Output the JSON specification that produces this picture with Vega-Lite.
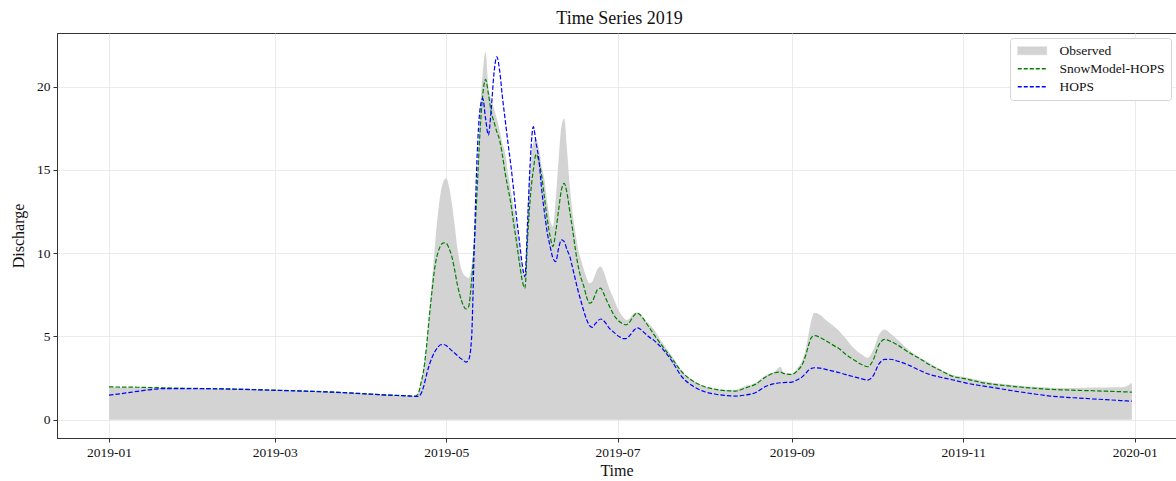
{
  "$schema": "https://vega.github.io/schema/vega-lite/v6.json",
  "width": 1119,
  "height": 405,
  "autosize": {"type": "none"},
  "padding": {"left": 57, "top": 33, "right": 0, "bottom": 43},
  "title": {"text": "Time Series 2019", "fontSize": 18, "font": "Liberation Serif", "fontWeight": "normal", "color": "#111", "offset": 5, "dx": 3},
  "data": {"values": [
    {"date":"2019-01-01","obs":1.95,"smh":1.97,"hops":1.48},
    {"date":"2019-01-06","obs":1.94,"smh":1.96,"hops":1.58},
    {"date":"2019-01-11","obs":1.93,"smh":1.95,"hops":1.70},
    {"date":"2019-01-16","obs":1.92,"smh":1.93,"hops":1.81},
    {"date":"2019-01-21","obs":1.91,"smh":1.91,"hops":1.87},
    {"date":"2019-01-31","obs":1.88,"smh":1.88,"hops":1.87},
    {"date":"2019-02-15","obs":1.84,"smh":1.84,"hops":1.83},
    {"date":"2019-02-28","obs":1.78,"smh":1.78,"hops":1.77},
    {"date":"2019-03-12","obs":1.73,"smh":1.72,"hops":1.71},
    {"date":"2019-03-22","obs":1.66,"smh":1.66,"hops":1.65},
    {"date":"2019-04-01","obs":1.57,"smh":1.57,"hops":1.56},
    {"date":"2019-04-11","obs":1.49,"smh":1.48,"hops":1.47},
    {"date":"2019-04-17","obs":1.44,"smh":1.44,"hops":1.43},
    {"date":"2019-04-20","obs":1.42,"smh":1.42,"hops":1.40},
    {"date":"2019-04-21","obs":1.6,"smh":1.55,"hops":1.40},
    {"date":"2019-04-22","obs":2.2,"smh":2.2,"hops":1.55},
    {"date":"2019-04-23","obs":3.2,"smh":3.0,"hops":2.0},
    {"date":"2019-04-24","obs":4.6,"smh":4.4,"hops":2.7},
    {"date":"2019-04-25","obs":6.5,"smh":6.2,"hops":3.3},
    {"date":"2019-04-26","obs":8.5,"smh":7.8,"hops":3.75},
    {"date":"2019-04-27","obs":10.5,"smh":9.2,"hops":4.1},
    {"date":"2019-04-28","obs":12.3,"smh":10.0,"hops":4.35},
    {"date":"2019-04-29","obs":13.6,"smh":10.45,"hops":4.5},
    {"date":"2019-04-30","obs":14.3,"smh":10.62,"hops":4.52},
    {"date":"2019-05-01","obs":14.5,"smh":10.6,"hops":4.45},
    {"date":"2019-05-02","obs":14.0,"smh":10.3,"hops":4.3},
    {"date":"2019-05-03","obs":13.0,"smh":9.8,"hops":4.15},
    {"date":"2019-05-04","obs":11.7,"smh":9.0,"hops":4.0},
    {"date":"2019-05-05","obs":10.3,"smh":8.1,"hops":3.85},
    {"date":"2019-05-06","obs":9.3,"smh":7.4,"hops":3.7},
    {"date":"2019-05-07","obs":8.8,"smh":6.9,"hops":3.58},
    {"date":"2019-05-08","obs":8.6,"smh":6.65,"hops":3.46},
    {"date":"2019-05-09","obs":8.5,"smh":6.8,"hops":3.6},
    {"date":"2019-05-10","obs":9.2,"smh":8.3,"hops":4.8},
    {"date":"2019-05-11","obs":11.0,"smh":10.5,"hops":10.5},
    {"date":"2019-05-12","obs":14.5,"smh":13.8,"hops":15.8},
    {"date":"2019-05-13","obs":18.4,"smh":17.2,"hops":18.6},
    {"date":"2019-05-14","obs":20.8,"smh":19.5,"hops":19.3},
    {"date":"2019-05-15","obs":22.1,"smh":20.45,"hops":18.1},
    {"date":"2019-05-16","obs":20.0,"smh":19.6,"hops":17.1},
    {"date":"2019-05-17","obs":19.3,"smh":18.5,"hops":18.6},
    {"date":"2019-05-18","obs":18.7,"smh":17.9,"hops":20.8},
    {"date":"2019-05-19","obs":18.1,"smh":17.3,"hops":21.8},
    {"date":"2019-05-20","obs":17.4,"smh":16.8,"hops":21.0},
    {"date":"2019-05-21","obs":16.6,"smh":15.9,"hops":19.4},
    {"date":"2019-05-22","obs":16.0,"smh":14.8,"hops":18.0},
    {"date":"2019-05-23","obs":14.8,"smh":13.9,"hops":16.6},
    {"date":"2019-05-24","obs":13.8,"smh":13.0,"hops":15.3},
    {"date":"2019-05-25","obs":12.8,"smh":11.8,"hops":13.8},
    {"date":"2019-05-26","obs":11.8,"smh":10.7,"hops":12.2},
    {"date":"2019-05-27","obs":10.5,"smh":9.5,"hops":10.8},
    {"date":"2019-05-28","obs":9.2,"smh":8.4,"hops":9.4},
    {"date":"2019-05-29","obs":8.6,"smh":7.9,"hops":8.6},
    {"date":"2019-05-30","obs":13.0,"smh":11.0,"hops":12.0},
    {"date":"2019-05-31","obs":15.5,"smh":13.5,"hops":15.8},
    {"date":"2019-06-01","obs":16.6,"smh":15.0,"hops":17.6},
    {"date":"2019-06-02","obs":16.9,"smh":15.95,"hops":16.6},
    {"date":"2019-06-03","obs":16.3,"smh":15.5,"hops":15.6},
    {"date":"2019-06-04","obs":15.2,"smh":14.6,"hops":13.8},
    {"date":"2019-06-05","obs":14.4,"smh":13.3,"hops":12.4},
    {"date":"2019-06-06","obs":13.0,"smh":12.0,"hops":11.2},
    {"date":"2019-06-07","obs":12.0,"smh":11.0,"hops":10.4},
    {"date":"2019-06-08","obs":11.6,"smh":10.4,"hops":9.7},
    {"date":"2019-06-09","obs":13.3,"smh":11.3,"hops":9.5},
    {"date":"2019-06-10","obs":15.6,"smh":12.6,"hops":10.3},
    {"date":"2019-06-11","obs":17.6,"smh":13.8,"hops":10.8},
    {"date":"2019-06-12","obs":18.1,"smh":14.2,"hops":10.7},
    {"date":"2019-06-13","obs":16.2,"smh":13.6,"hops":10.2},
    {"date":"2019-06-14","obs":14.0,"smh":12.5,"hops":9.8},
    {"date":"2019-06-15","obs":12.4,"smh":11.4,"hops":9.1},
    {"date":"2019-06-16","obs":11.2,"smh":10.2,"hops":8.4},
    {"date":"2019-06-17","obs":10.2,"smh":9.2,"hops":7.7},
    {"date":"2019-06-18","obs":9.6,"smh":8.5,"hops":7.1},
    {"date":"2019-06-19","obs":9.0,"smh":8.0,"hops":6.5},
    {"date":"2019-06-20","obs":8.5,"smh":7.35,"hops":6.0},
    {"date":"2019-06-21","obs":8.2,"smh":7.0,"hops":5.65},
    {"date":"2019-06-22","obs":8.3,"smh":7.1,"hops":5.55},
    {"date":"2019-06-23","obs":8.7,"smh":7.5,"hops":5.75},
    {"date":"2019-06-24","obs":9.1,"smh":7.85,"hops":5.95},
    {"date":"2019-06-25","obs":9.2,"smh":7.9,"hops":6.05},
    {"date":"2019-06-26","obs":8.9,"smh":7.6,"hops":5.95},
    {"date":"2019-06-27","obs":8.4,"smh":7.2,"hops":5.75},
    {"date":"2019-06-28","obs":7.9,"smh":6.85,"hops":5.5},
    {"date":"2019-06-29","obs":7.5,"smh":6.5,"hops":5.35},
    {"date":"2019-06-30","obs":7.1,"smh":6.2,"hops":5.2},
    {"date":"2019-07-01","obs":6.7,"smh":6.0,"hops":5.05},
    {"date":"2019-07-02","obs":6.4,"smh":5.85,"hops":4.95},
    {"date":"2019-07-03","obs":6.15,"smh":5.75,"hops":4.87},
    {"date":"2019-07-04","obs":6.0,"smh":5.7,"hops":4.87},
    {"date":"2019-07-05","obs":6.05,"smh":5.8,"hops":5.0},
    {"date":"2019-07-06","obs":6.25,"smh":6.05,"hops":5.2},
    {"date":"2019-07-07","obs":6.4,"smh":6.3,"hops":5.4},
    {"date":"2019-07-08","obs":6.45,"smh":6.4,"hops":5.52},
    {"date":"2019-07-09","obs":6.35,"smh":6.3,"hops":5.45},
    {"date":"2019-07-10","obs":6.15,"smh":6.1,"hops":5.3},
    {"date":"2019-07-11","obs":5.95,"smh":5.85,"hops":5.15},
    {"date":"2019-07-12","obs":5.8,"smh":5.6,"hops":5.0},
    {"date":"2019-07-14","obs":5.4,"smh":5.1,"hops":4.75},
    {"date":"2019-07-17","obs":4.6,"smh":4.4,"hops":4.25},
    {"date":"2019-07-20","obs":3.9,"smh":3.75,"hops":3.6},
    {"date":"2019-07-24","obs":2.9,"smh":2.85,"hops":2.55},
    {"date":"2019-07-28","obs":2.35,"smh":2.3,"hops":2.0},
    {"date":"2019-08-01","obs":2.0,"smh":1.98,"hops":1.68},
    {"date":"2019-08-05","obs":1.85,"smh":1.82,"hops":1.53},
    {"date":"2019-08-09","obs":1.78,"smh":1.74,"hops":1.45},
    {"date":"2019-08-12","obs":1.8,"smh":1.72,"hops":1.42},
    {"date":"2019-08-15","obs":2.0,"smh":1.88,"hops":1.47},
    {"date":"2019-08-19","obs":2.2,"smh":2.12,"hops":1.62},
    {"date":"2019-08-23","obs":2.7,"smh":2.6,"hops":2.02},
    {"date":"2019-08-26","obs":2.9,"smh":2.82,"hops":2.17},
    {"date":"2019-08-28","obs":3.18,"smh":2.86,"hops":2.22},
    {"date":"2019-08-29","obs":2.85,"smh":2.78,"hops":2.23},
    {"date":"2019-09-01","obs":2.75,"smh":2.72,"hops":2.26},
    {"date":"2019-09-03","obs":3.1,"smh":2.95,"hops":2.4},
    {"date":"2019-09-05","obs":3.7,"smh":3.42,"hops":2.62},
    {"date":"2019-09-06","obs":4.3,"smh":3.9,"hops":2.8},
    {"date":"2019-09-07","obs":5.2,"smh":4.5,"hops":2.98},
    {"date":"2019-09-08","obs":6.0,"smh":4.95,"hops":3.08},
    {"date":"2019-09-09","obs":6.42,"smh":5.05,"hops":3.12},
    {"date":"2019-09-11","obs":6.3,"smh":4.95,"hops":3.1},
    {"date":"2019-09-13","obs":6.0,"smh":4.75,"hops":3.02},
    {"date":"2019-09-16","obs":5.6,"smh":4.45,"hops":2.9},
    {"date":"2019-09-18","obs":5.3,"smh":4.25,"hops":2.82},
    {"date":"2019-09-20","obs":4.9,"smh":3.95,"hops":2.72},
    {"date":"2019-09-23","obs":4.3,"smh":3.6,"hops":2.58},
    {"date":"2019-09-26","obs":3.9,"smh":3.3,"hops":2.45},
    {"date":"2019-09-28","obs":3.72,"smh":3.18,"hops":2.38},
    {"date":"2019-09-30","obs":4.2,"smh":3.6,"hops":2.65},
    {"date":"2019-10-02","obs":5.1,"smh":4.5,"hops":3.35},
    {"date":"2019-10-04","obs":5.42,"smh":4.82,"hops":3.62},
    {"date":"2019-10-06","obs":5.2,"smh":4.72,"hops":3.63},
    {"date":"2019-10-09","obs":4.75,"smh":4.45,"hops":3.5},
    {"date":"2019-10-13","obs":4.12,"smh":4.0,"hops":3.25},
    {"date":"2019-10-16","obs":3.8,"smh":3.72,"hops":3.0},
    {"date":"2019-10-20","obs":3.4,"smh":3.3,"hops":2.72},
    {"date":"2019-10-24","obs":3.0,"smh":2.95,"hops":2.55},
    {"date":"2019-10-28","obs":2.7,"smh":2.62,"hops":2.4},
    {"date":"2019-11-02","obs":2.55,"smh":2.45,"hops":2.2},
    {"date":"2019-11-07","obs":2.35,"smh":2.25,"hops":2.05},
    {"date":"2019-11-12","obs":2.2,"smh":2.12,"hops":1.92},
    {"date":"2019-11-17","obs":2.12,"smh":2.03,"hops":1.78},
    {"date":"2019-11-22","obs":2.02,"smh":1.95,"hops":1.65},
    {"date":"2019-11-27","obs":1.96,"smh":1.88,"hops":1.53},
    {"date":"2019-12-02","obs":1.92,"smh":1.82,"hops":1.42},
    {"date":"2019-12-07","obs":1.9,"smh":1.79,"hops":1.35},
    {"date":"2019-12-12","obs":1.9,"smh":1.76,"hops":1.3},
    {"date":"2019-12-17","obs":1.93,"smh":1.74,"hops":1.25},
    {"date":"2019-12-22","obs":1.94,"smh":1.71,"hops":1.2},
    {"date":"2019-12-27","obs":1.95,"smh":1.68,"hops":1.15},
    {"date":"2019-12-29","obs":2.0,"smh":1.67,"hops":1.13},
    {"date":"2019-12-30","obs":2.1,"smh":1.66,"hops":1.12},
    {"date":"2019-12-31","obs":2.2,"smh":1.66,"hops":1.12}
  ]},
  "encoding": {
    "x": {
      "field": "date",
      "type": "temporal",
      "scale": {
        "type": "utc",
        "domain": [
          {"year": 2018, "month": 12, "date": 13, "hours": 12, "utc": true},
          {"year": 2020, "month": 1, "date": 15, "hours": 17, "utc": true}
        ]
      },
      "axis": {
        "title": "Time",
        "labelExpr": "utcFormat(datum.value, '%Y-%m')",
        "grid": true,
        "values": [
          {"year": 2019, "month": 1, "date": 1, "utc": true},
          {"year": 2019, "month": 3, "date": 1, "utc": true},
          {"year": 2019, "month": 5, "date": 1, "utc": true},
          {"year": 2019, "month": 7, "date": 1, "utc": true},
          {"year": 2019, "month": 9, "date": 1, "utc": true},
          {"year": 2019, "month": 11, "date": 1, "utc": true},
          {"year": 2020, "month": 1, "date": 1, "utc": true}
        ]
      }
    }
  },
  "layer": [
    {
      "mark": {"type": "area", "interpolate": "monotone", "opacity": 1},
      "encoding": {
        "y": {
          "field": "obs",
          "type": "quantitative",
          "scale": {"domain": [-1.1, 23.23], "nice": false, "zero": false},
          "axis": {"title": "Discharge", "values": [0, 5, 10, 15, 20], "grid": true}
        },
        "y2": {"datum": 0},
        "color": {
          "datum": "obs",
          "type": "nominal",
          "scale": {"domain": ["obs", "smh", "hops"], "range": ["#d3d3d3", "#008000", "#0000ff"]},
          "legend": {
            "title": null,
            "orient": "top-right",
            "offset": 5,
            "padding": 6,
            "cornerRadius": 3,
            "strokeColor": "#d5d5d5",
            "fillColor": "#ffffff",
            "labelFont": "Liberation Serif",
            "labelFontSize": 13.5,
            "labelColor": "#111",
            "symbolSize": 100,
            "symbolType": "M-1,0H4.8",
            "labelOffset": 30,
            "rowPadding": 3,
            "labelExpr": "datum.value === 'obs' ? 'Observed' : datum.value === 'smh' ? 'SnowModel-HOPS' : 'HOPS'",
            "encode": {
              "symbols": {
                "update": {
                  "shape": {"signal": "datum.value === 'obs' ? 'M-1,-0.8H4.8V0.8H-1Z' : 'M-1,0H4.8'"},
                  "fill": {"signal": "datum.value === 'obs' ? '#d3d3d3' : 'transparent'"},
                  "stroke": {"signal": "datum.value === 'obs' ? '#d3d3d3' : (datum.value === 'smh' ? '#008000' : '#0000ff')"},
                  "strokeWidth": {"signal": "datum.value === 'obs' ? 0.5 : 1.3"},
                  "strokeDash": {"signal": "datum.value === 'obs' ? [1, 0] : [4, 2]"},
                  "opacity": {"value": 1}
                }
              }
            }
          }
        }
      }
    },
    {
      "transform": [{"fold": ["smh", "hops"], "as": ["series", "value"]}],
      "mark": {"type": "line", "interpolate": "monotone", "strokeDash": [4.5, 2], "strokeWidth": 1.2},
      "encoding": {
        "y": {"field": "value", "type": "quantitative"},
        "color": {
          "field": "series",
          "type": "nominal",
          "legend": {
            "title": null,
            "orient": "top-right",
            "offset": 5,
            "padding": 6,
            "cornerRadius": 3,
            "strokeColor": "#d5d5d5",
            "fillColor": "#ffffff",
            "labelFont": "Liberation Serif",
            "labelFontSize": 13.5,
            "labelColor": "#111",
            "symbolSize": 100,
            "symbolType": "M-1,0H4.8",
            "labelOffset": 30,
            "rowPadding": 3,
            "labelExpr": "datum.value === 'obs' ? 'Observed' : datum.value === 'smh' ? 'SnowModel-HOPS' : 'HOPS'",
            "encode": {
              "symbols": {
                "update": {
                  "shape": {"signal": "datum.value === 'obs' ? 'M-1,-0.8H4.8V0.8H-1Z' : 'M-1,0H4.8'"},
                  "fill": {"signal": "datum.value === 'obs' ? '#d3d3d3' : 'transparent'"},
                  "stroke": {"signal": "datum.value === 'obs' ? '#d3d3d3' : (datum.value === 'smh' ? '#008000' : '#0000ff')"},
                  "strokeWidth": {"signal": "datum.value === 'obs' ? 0.5 : 1.3"},
                  "strokeDash": {"signal": "datum.value === 'obs' ? [1, 0] : [4, 2]"},
                  "opacity": {"value": 1}
                }
              }
            }
          }
        }
      }
    }
  ],
  "config": {
    "font": "Liberation Serif",
    "view": {"stroke": "#333", "strokeWidth": 1},
    "axis": {
      "labelFont": "Liberation Serif",
      "titleFont": "Liberation Serif",
      "labelFontSize": 13.5,
      "titleFontSize": 16,
      "titleFontWeight": "normal",
      "labelColor": "#111",
      "titleColor": "#111",
      "domainColor": "#333",
      "tickColor": "#333",
      "tickSize": 4,
      "gridColor": "#e6e6e6",
      "gridWidth": 0.8,
      "labelPadding": 3
    },
    "axisX": {"titlePadding": 4},
    "axisY": {"titlePadding": 10}
  }
}
